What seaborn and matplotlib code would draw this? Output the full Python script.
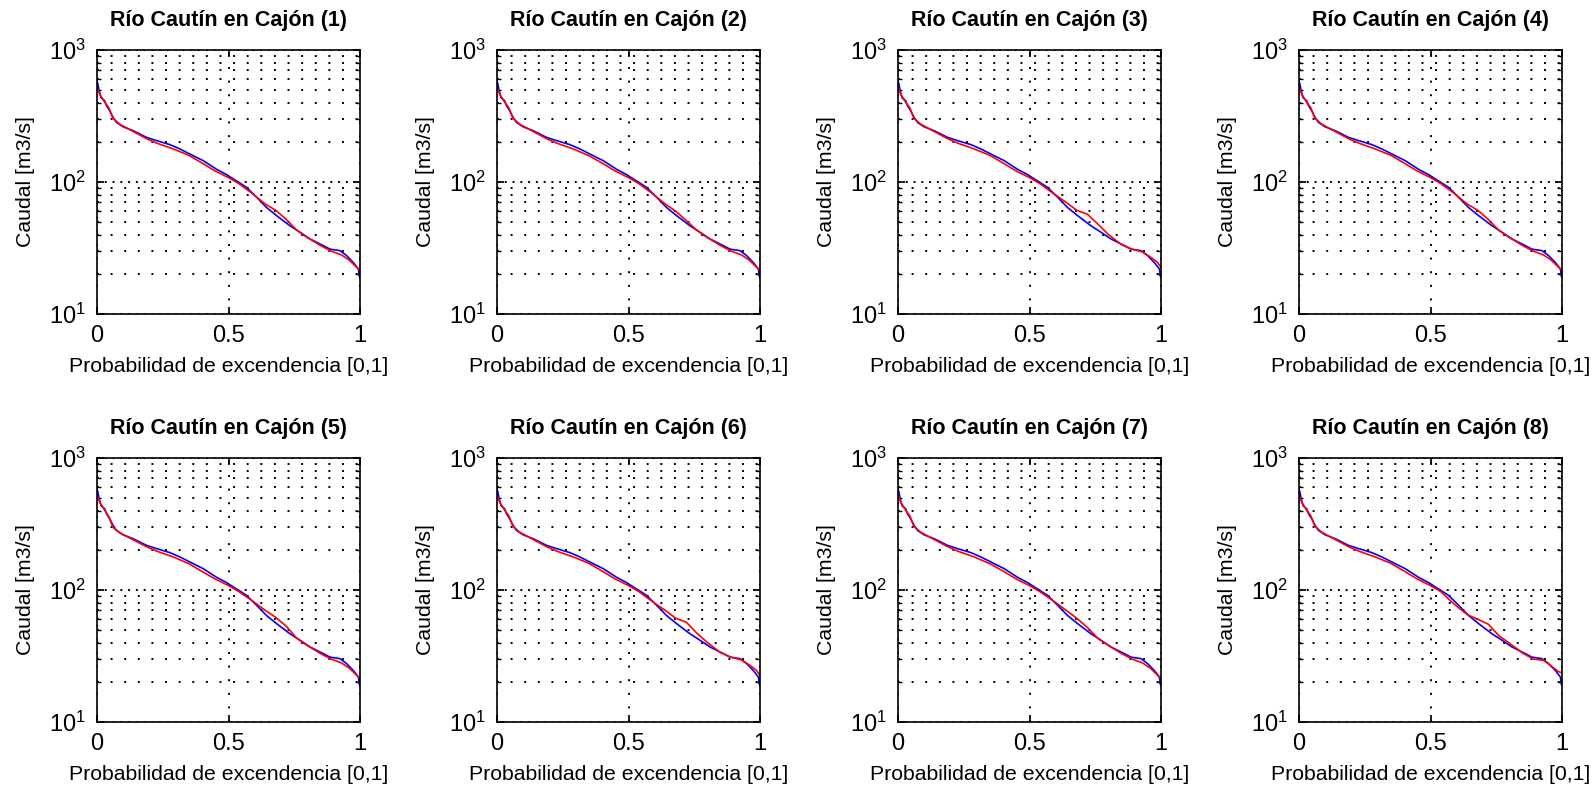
import numpy as np
import pandas as pd
import matplotlib
matplotlib.use("Agg")
import matplotlib.pyplot as plt
import seaborn as sns

# -------------------
# DATA
# -------------------
# observed flow duration curve (blue), same in every panel
p_obs = [0.0, 0.003, 0.008, 0.016, 0.029, 0.036, 0.048, 0.061, 0.074, 0.099,
         0.137, 0.188, 0.226, 0.277, 0.315, 0.353, 0.404, 0.454, 0.492, 0.53,
         0.569, 0.607, 0.645, 0.683, 0.733, 0.772, 0.81, 0.86, 0.886, 0.924,
         0.949, 0.975, 0.994, 0.997, 1.0]
q_obs = [570, 559, 492, 433, 413, 379, 347, 309, 283, 262,
         245, 218, 206, 192, 178, 163, 145, 125, 114, 102,
         91, 76.5, 64, 55.6, 46.7, 41.6, 37, 33, 31, 30.2,
         27.7, 24.5, 21.9, 19.5, 18.7]

# simulated curves (red), one per panel
p_sim = [0.0, 0.01, 0.03, 0.045, 0.06, 0.085, 0.12, 0.19, 0.23, 0.29,
         0.35, 0.40, 0.45, 0.50, 0.54, 0.59, 0.64, 0.68, 0.72, 0.76,
         0.80, 0.85, 0.89, 0.93, 0.96, 0.985, 1.0]
q_sim_1 = [521, 464, 400, 365, 305, 275, 252, 212, 196, 178,
           159, 139, 121, 108, 97, 82, 68, 61, 52, 43,
           38, 33, 30, 28, 25.5, 22.8, 21.3]
q_sim_2 = [521, 464, 400, 365, 305, 275, 252, 212, 196, 178,
           158, 139, 121, 108, 97, 82, 68, 60, 51, 43,
           38, 33, 30, 28, 25.5, 22.8, 21.3]
q_sim_3 = [521, 464, 400, 365, 305, 275, 252, 212, 196, 178,
           159, 139, 121, 108, 97, 82, 70, 61, 57, 48,
           40, 33.5, 31, 29.5, 27, 24.8, 22.6]
q_sim_4 = [521, 464, 400, 365, 305, 275, 252, 212, 196, 178,
           159, 139, 121, 108, 97, 82, 68, 61, 52, 43,
           38, 33, 30, 28, 25.5, 22.8, 21.3]
q_sim_5 = [521, 464, 400, 360, 300, 272, 250, 212, 196, 178,
           158, 138, 121, 108, 97, 83, 70, 62, 53, 43,
           38, 33, 30, 28, 25.5, 22.8, 21.3]
q_sim_6 = [521, 464, 400, 365, 305, 275, 252, 212, 196, 178,
           159, 139, 121, 108, 97, 82, 70, 61, 57, 47,
           40, 33.5, 31, 29.5, 27, 24.8, 22.6]
q_sim_7 = [521, 464, 400, 365, 305, 275, 252, 212, 196, 178,
           158, 139, 121, 108, 97, 83, 70, 61, 52, 43,
           38, 33, 30, 28, 25.5, 22.8, 21.3]
q_sim_8 = [521, 464, 400, 365, 305, 275, 252, 212, 196, 178,
           159, 139, 121, 108, 97, 78, 65, 60, 55, 45,
           39.6, 33.3, 30, 29.3, 26.5, 24.2, 23.5]
q_sims = [q_sim_1, q_sim_2, q_sim_3, q_sim_4, q_sim_5, q_sim_6, q_sim_7, q_sim_8]

titles = [f"Río Cautín en Cajón ({i})" for i in range(1, 9)]
x_ticks = [0, 0.5, 1]
x_tick_labels = ["0", "0.5", "1"]

# -------------------
# LAYOUT
# -------------------
sns.set_theme(style="white")
plt.rcParams["font.family"] = ["Liberation Sans", "DejaVu Sans"]
plt.rcParams["mathtext.fontset"] = "custom"
plt.rcParams["mathtext.rm"] = "Liberation Sans"
plt.rcParams["text.color"] = "black"
plt.rcParams["axes.labelcolor"] = "black"
plt.rcParams["xtick.color"] = "black"
plt.rcParams["ytick.color"] = "black"

W, H = 1594, 788
fig = plt.figure(figsize=(W / 100, H / 100), dpi=100)

col_left = [97, 497, 898, 1299]
row_top = [50, 458]
ax_w, ax_h = 263, 264

# MATLAB-like dotted grid
dot = (0, (1, 6))
dot_major = (0, (1, 3))

for k in range(8):
    r, c = divmod(k, 4)
    rect = [col_left[c] / W, 1 - (row_top[r] + ax_h) / H, ax_w / W, ax_h / H]
    ax = fig.add_axes(rect)

    df_obs = pd.DataFrame({"p": p_obs, "q": q_obs})
    df_sim = pd.DataFrame({"p": p_sim, "q": q_sims[k]})
    sns.lineplot(data=df_obs, x="p", y="q", ax=ax, color="#0000FF",
                 lw=1.2, sort=False, estimator=None)
    sns.lineplot(data=df_sim, x="p", y="q", ax=ax, color="#FF0000",
                 lw=1.2, sort=False, estimator=None)

    ax.set_yscale("log")
    ax.set_xlim(0, 1)
    ax.set_ylim(10, 1000)
    ax.set_xticks(x_ticks)
    ax.set_xticklabels(x_tick_labels)

    ax.grid(True, which="major", axis="x", color="black", lw=1.4, linestyle=dot)
    ax.grid(True, which="major", axis="y", color="black", lw=1.4, linestyle=dot_major)
    ax.grid(True, which="minor", axis="y", color="black", lw=1.4, linestyle=dot)

    ax.tick_params(which="both", direction="in", top=True, right=True,
                   bottom=True, left=True, color="black")
    ax.tick_params(which="major", length=5, labelsize=17, pad=8)
    ax.tick_params(which="minor", length=3)
    ax.tick_params(axis="x", which="minor", bottom=False, top=False)
    for s in ax.spines.values():
        s.set_color("black")
        s.set_linewidth(1.2)

    ax.set_title(titles[k], fontsize=15.5, fontweight="bold", pad=17)
    ax.set_xlabel("Probabilidad de excendencia [0,1]", fontsize=15.3, labelpad=7)
    ax.set_ylabel("Caudal [m3/s]", fontsize=15.3, labelpad=10)

fig.savefig("out.png", dpi=100)
